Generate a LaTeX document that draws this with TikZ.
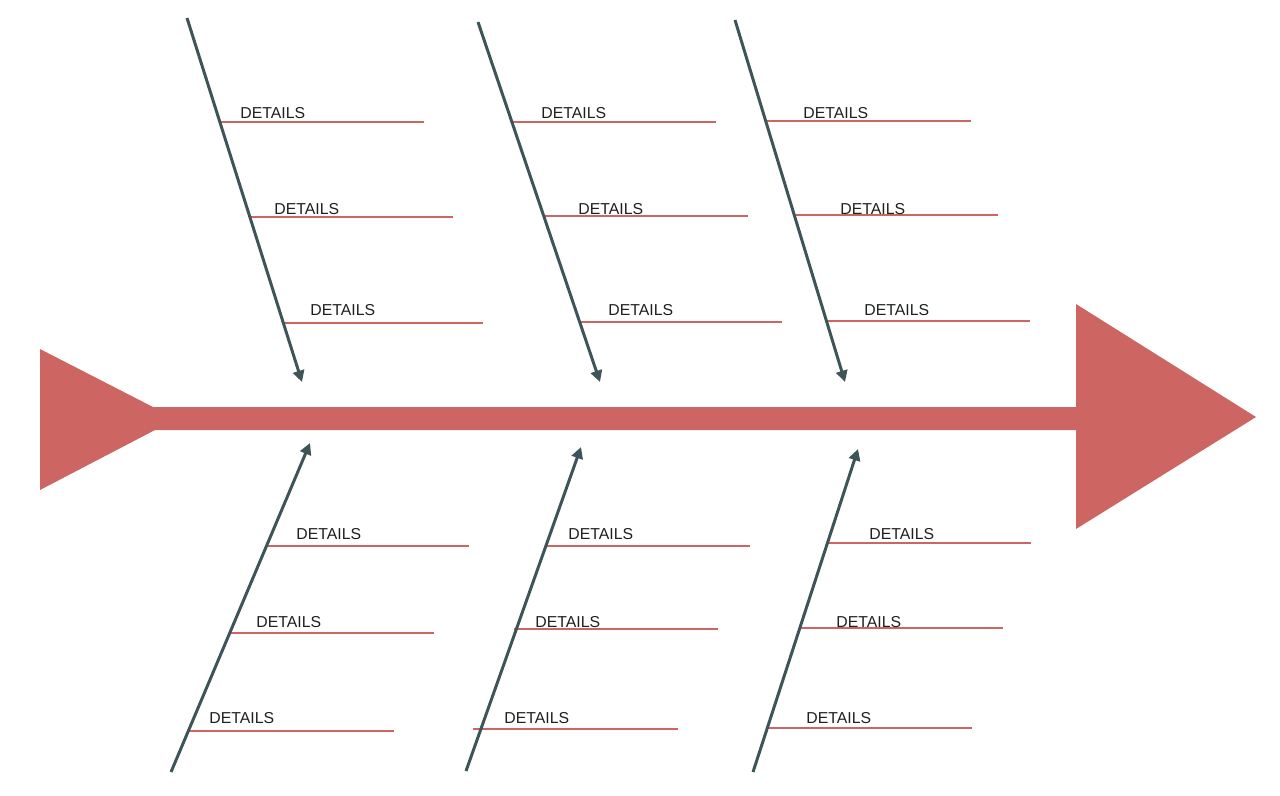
\documentclass[tikz,border=0pt]{standalone}
\usepackage{fontspec}
\setmainfont{Liberation Sans}
\usepackage{xcolor}
\usetikzlibrary{arrows.meta}
\definecolor{fishred}{HTML}{CD6662}
\definecolor{bonegray}{HTML}{3D5558}
\tikzset{
  line cap=round,
  line join=round,
  spine/.style={fill=fishred},
  bone/.style={draw=bonegray, line width=1.7pt, -{Triangle[length=6.5pt,width=6.5pt]}},
  detail/.style={draw=fishred, line width=1.1pt, line cap=butt},
  lbl/.style={anchor=base west, inner sep=0pt, font=\fontsize{9}{10}\selectfont, text=black!88}
}

\begin{document}
\begin{tikzpicture}[x=0.02cm, y=-0.02cm]
  \useasboundingbox (0,0) rectangle (1280,795);

  % spine with head and tail
  \fill[spine] (40,349) -- (153,407) -- (1076,407) -- (1076,304) -- (1256,417)
    -- (1076,529) -- (1076,430) -- (155,430) -- (40,490) -- cycle;

  % bone ends
  \coordinate (t1) at (187,18);   \coordinate (t1h) at (302,382);
  \coordinate (t2) at (478,22);   \coordinate (t2h) at (600,382);
  \coordinate (t3) at (735,20);   \coordinate (t3h) at (845,382);
  \coordinate (b1) at (171,772);  \coordinate (b1h) at (310,443);
  \coordinate (b2) at (466,771);  \coordinate (b2h) at (581,447);
  \coordinate (b3) at (753,772);  \coordinate (b3h) at (858,449);

  % details, upper bones
  \draw[detail] (219,122) -- (424,122);
  \node[lbl] (t1a) at (240,118) {DETAILS};
  \draw[detail] (249,217) -- (453,217);
  \node[lbl] (t1b) at (274,214) {DETAILS};
  \draw[detail] (284,323) -- (483,323);
  \node[lbl] (t1c) at (310,315) {DETAILS};

  \draw[detail] (512,122) -- (716,122);
  \node[lbl] (t2a) at (541,118) {DETAILS};
  \draw[detail] (545,216) -- (748,216);
  \node[lbl] (t2b) at (578,214) {DETAILS};
  \draw[detail] (579,322) -- (782,322);
  \node[lbl] (t2c) at (608,315) {DETAILS};

  \draw[detail] (767,121) -- (971,121);
  \node[lbl] (t3a) at (803,118) {DETAILS};
  \draw[detail] (796,215) -- (998,215);
  \node[lbl] (t3b) at (840,214) {DETAILS};
  \draw[detail] (828,321) -- (1030,321);
  \node[lbl] (t3c) at (864,315) {DETAILS};

  % details, lower bones
  \draw[detail] (265,546) -- (469,546);
  \node[lbl] (b1a) at (296,539) {DETAILS};
  \draw[detail] (229,633) -- (434,633);
  \node[lbl] (b1b) at (256,627) {DETAILS};
  \draw[detail] (189,731) -- (394,731);
  \node[lbl] (b1c) at (209,723) {DETAILS};

  \draw[detail] (546,546) -- (750,546);
  \node[lbl] (b2a) at (568,539) {DETAILS};
  \draw[detail] (514,629) -- (718,629);
  \node[lbl] (b2b) at (535,627) {DETAILS};
  \draw[detail] (473,729) -- (678,729);
  \node[lbl] (b2c) at (504,723) {DETAILS};

  \draw[detail] (828,543) -- (1031,543);
  \node[lbl] (b3a) at (869,539) {DETAILS};
  \draw[detail] (800,628) -- (1003,628);
  \node[lbl] (b3b) at (836,627) {DETAILS};
  \draw[detail] (767,728) -- (972,728);
  \node[lbl] (b3c) at (806,723) {DETAILS};

  % bones
  \draw[bone] (t1) -- (t1h);
  \draw[bone] (t2) -- (t2h);
  \draw[bone] (t3) -- (t3h);
  \draw[bone] (b1) -- (b1h);
  \draw[bone] (b2) -- (b2h);
  \draw[bone] (b3) -- (b3h);
\end{tikzpicture}
\end{document}
